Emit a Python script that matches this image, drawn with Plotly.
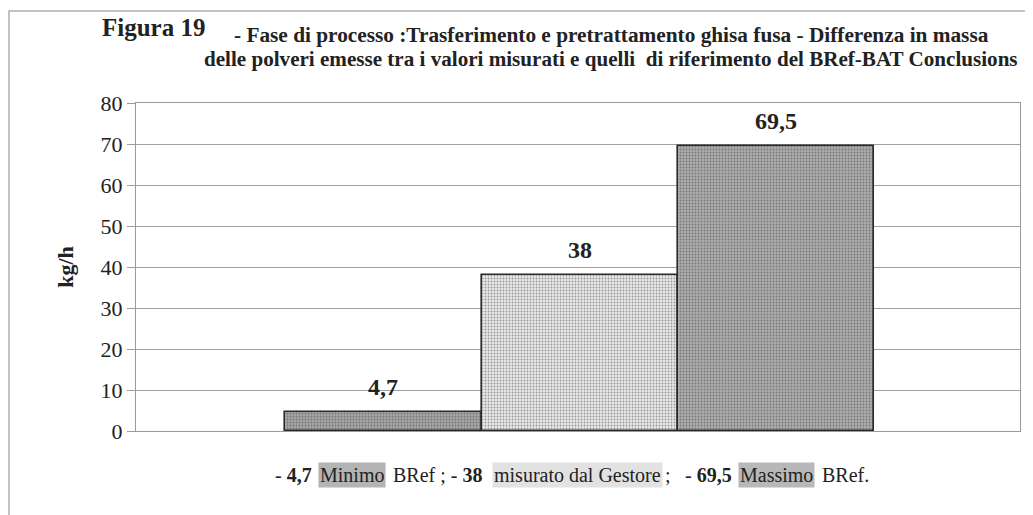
import plotly.graph_objects as go

# dati
posizioni = [1, 2, 3]
valori = [4.7, 38, 69.5]
etichette = ["4,7", "38", "69,5"]
colori = ["#a6a6a6", "#e8e8e8", "#acacac"]
colori_punti = ["#7c7c7c", "#cdcdcd", "#868686"]
tick_y = [0, 10, 20, 30, 40, 50, 60, 70, 80]

W, H = 1033, 515
OFF = 8  # margine del body della pagina html
# area del grafico in pixel della pagina
X0, X1, Y0, Y1 = 136, 1020, 103, 431
L, T = X0 - OFF, Y0 - OFF
R, B = W - (X1 - OFF), H - (Y1 - OFF)
PW, PH = X1 - X0, Y1 - Y0


def px(x):
    return (x - X0) / PW


def py(y):
    return (Y1 - y) / PH


FONT = "Times New Roman, Liberation Serif, serif"

fig = go.Figure(go.Bar(
    x=posizioni,
    y=valori,
    width=1,
    marker=dict(
        color=colori,
        line=dict(color="#2a2a2a", width=1.6),
        pattern=dict(shape=".", fgcolor=colori_punti, bgcolor=colori, size=3, solidity=0.3),
    ),
    showlegend=False,
))

for xv, v, lab in zip(posizioni, valori, etichette):
    fig.add_annotation(x=xv, y=v, text=f"<b>{lab}</b>", showarrow=False,
                       yanchor="middle", yshift=25,
                       font=dict(family=FONT, size=24, color="#222"))

# titolo
fig.add_annotation(xref="paper", yref="paper", x=px(100), y=py(28), xanchor="left", yanchor="middle",
                   text="<b>Figura 19</b>", showarrow=False, font=dict(family=FONT, size=25, color="#222"))
fig.add_annotation(xref="paper", yref="paper", x=px(232), y=py(35), xanchor="left", yanchor="middle",
                   text="<b>- Fase di processo :Trasferimento e pretrattamento ghisa fusa - Differenza in massa</b>",
                   showarrow=False, font=dict(family=FONT, size=21.3, color="#222"))
fig.add_annotation(xref="paper", yref="paper", x=px(202), y=py(59), xanchor="left", yanchor="middle",
                   text="<b>delle polveri emesse tra i valori misurati e quelli  di riferimento del BRef-BAT Conclusions</b>",
                   showarrow=False, font=dict(family=FONT, size=21.1, color="#222"))

# nota in basso
nota = [
    ("- <b>4,7</b>", 273, "left", None),
    ("Minimo", 351.5, "center", "#b4b4b4"),
    ("BRef ; - <b>38</b>", 391, "left", None),
    ("misurato dal Gestore", 577, "center", "#e2e2e2"),
    (";", 663, "left", None),
    ("- <b>69,5</b>", 734, "right", None),
    ("Massimo", 776, "center", "#b8b8b8"),
    ("BRef.", 820, "left", None),
]
for testo, xp, anc, bg in nota:
    fig.add_annotation(xref="paper", yref="paper", x=px(xp), y=py(475), xanchor=anc, yanchor="middle",
                       text=testo, showarrow=False, bgcolor=bg, borderpad=1,
                       font=dict(family=FONT, size=20, color="#222"))

# cornice esterna
fig.add_shape(type="rect", xref="paper", yref="paper",
              x0=px(9), x1=px(1031), y0=py(540), y1=py(11),
              line=dict(color="#b0b0b0", width=1.5), layer="below")

fig.update_layout(
    width=W, height=H,
    margin=dict(l=L, r=R, t=T, b=B),
    paper_bgcolor="white",
    plot_bgcolor="white",
    bargap=0,
    font=dict(family=FONT, size=21, color="#222"),
    xaxis=dict(range=[-0.26, 4.243], showticklabels=False, showgrid=False, zeroline=False,
               showline=True, linecolor="#9a9a9a", linewidth=1, mirror=True, ticks=""),
    yaxis=dict(range=[0, 80], tickvals=tick_y, showgrid=True, gridcolor="#a0a0a0", gridwidth=1,
               zeroline=False, showline=True, linecolor="#9a9a9a", linewidth=1, mirror=True,
               ticks="outside", ticklen=8, tickcolor="#9a9a9a",
               tickfont=dict(family=FONT, size=22, color="#222"),
               title=dict(text="<b>kg/h</b>", font=dict(family=FONT, size=22, color="#222"), standoff=20)),
)

fig.write_html("out.html")
